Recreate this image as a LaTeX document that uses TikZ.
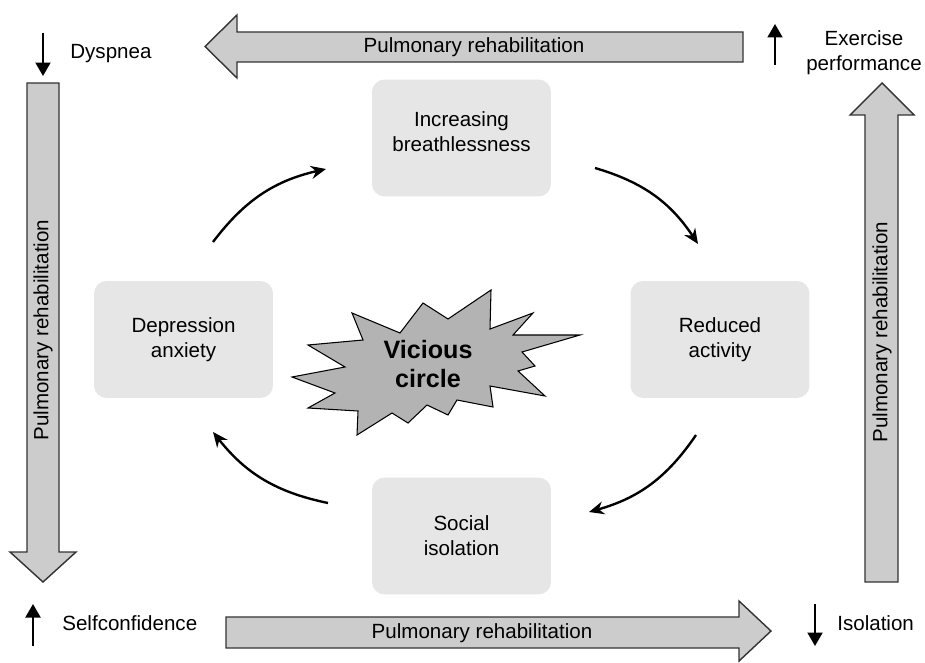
\documentclass[tikz,border=0pt]{standalone}
\usepackage{fontspec}
\setmainfont{Liberation Sans}
\usetikzlibrary{arrows.meta}
\definecolor{boxgray}{RGB}{230,230,230}
\definecolor{arrowgray}{RGB}{204,204,204}
\definecolor{burstgray}{RGB}{179,179,179}

\begin{document}
\begin{tikzpicture}[x=0.02cm, y=-0.02cm, font=\fontsize{11.7}{14.2}\selectfont,
  box/.style={fill=boxgray, rounded corners=0.25cm, minimum width=3.58cm, minimum height=2.34cm, align=center, inner sep=0},
  bigarrow/.style={fill=arrowgray, draw=black!80, line width=0.8pt},
  cyc/.style={-{Stealth[length=0.3cm, width=0.26cm]}, line width=1.35pt},
  updown/.style={-{Triangle[length=0.27cm, width=0.3cm]}, line width=1.2pt}]
\useasboundingbox (0,0) rectangle (925,662);

% the four boxes of the circle
\node (inc)[box, text depth=0.24cm] at (461.5,138) {Increasing\\breathlessness};
\node (red)[box] at (720,339.5) {Reduced\\activity};
\node (soc)[box] at (461.5,536) {Social\\isolation};
\node (dep)[box] at (183.5,339.5) {Depression\\anxiety};

% star in the middle
\draw[fill=burstgray, line width=0.6pt] (292,377) -- (345,367) -- (308,345) -- (363,340) -- (352,313)
  -- (400,333) -- (423,303) -- (448,319) -- (491,290) -- (490,329) -- (533,313) -- (513,335)
  -- (580,335) -- (522,352) -- (535,366) -- (518,371) -- (545,396) -- (490,386) -- (493,407)
  -- (457,400) -- (448,415) -- (427,405) -- (408,423) -- (392,413) -- (357,435) -- (358,411)
  -- (308,408) -- (335,393) -- cycle;
\node (vc)[align=center, font=\fontsize{14.3}{17}\selectfont\bfseries] at (428,364) {Vicious\\circle};

% arrows of the circle
\coordinate (a1) at (213,242); \coordinate (b1) at (326,169);
\coordinate (a2) at (595,168); \coordinate (b2) at (698,244);
\coordinate (a3) at (696,435); \coordinate (b3) at (589,512);
\coordinate (a4) at (328,503); \coordinate (b4) at (213,432);
\draw[cyc] (a1) to[bend left=20] (b1);
\draw[cyc] (a2) to[bend left=20] (b2);
\draw[cyc] (a3) to[bend left=20] (b3);
\draw[cyc] (a4) to[bend left=20] (b4);

% big arrows round the edge
\draw[bigarrow] (743,32) -- (237,32) -- (237,15) -- (205,46.5) -- (237,78) -- (237,62) -- (743,62) -- cycle;
\draw[bigarrow] (27,83) -- (59,83) -- (59,552) -- (76,552) -- (43,582) -- (10,552) -- (27,552) -- cycle;
\draw[bigarrow] (226,617) -- (739,617) -- (739,601) -- (771,631) -- (739,661) -- (739,648) -- (226,648) -- cycle;
\draw[bigarrow] (865,582) -- (865,115) -- (850,115) -- (882,83) -- (914,115) -- (898,115) -- (898,582) -- cycle;
\node (pt)[anchor=base, inner sep=0] at (474,53) {Pulmonary rehabilitation};
\node (pb)[anchor=base, inner sep=0] at (482,638) {Pulmonary rehabilitation};
\node (pl)[rotate=90, inner sep=0] at (43,330) {Pulmonary rehabilitation};
\node (pr)[rotate=90, inner sep=0] at (882,332) {Pulmonary rehabilitation};

% corner labels
\node (dysp)[anchor=base west, inner sep=0] at (70,59) {Dyspnea};
\node (exer)[align=center, inner sep=0] at (864,53) {Exercise\\performance};
\node (self)[anchor=base west, inner sep=0] at (62,630) {Selfconfidence};
\node (isol)[anchor=base west, inner sep=0] at (837,630) {Isolation};
\coordinate (d0) at (43,33);  \coordinate (d1) at (43,76);
\coordinate (e0) at (775,65); \coordinate (e1) at (775,24);
\coordinate (s0) at (33,646); \coordinate (s1) at (33,604);
\coordinate (i0) at (815,604); \coordinate (i1) at (815,646);
\draw[updown] (d0) -- (d1);
\draw[updown] (e0) -- (e1);
\draw[updown] (s0) -- (s1);
\draw[updown] (i0) -- (i1);
\end{tikzpicture}
\end{document}
